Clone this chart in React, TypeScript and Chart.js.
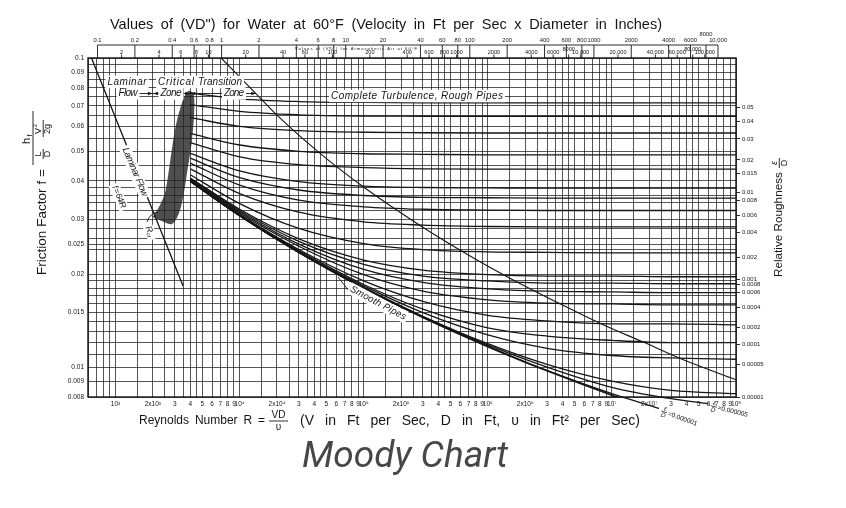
import { useEffect, useRef } from "react";
import { Chart, registerables } from "chart.js";

Chart.register(...registerables);

// ---------------- data ----------------
const reynoldsMin = 600;
const reynoldsMax = 100000000;
const frictionMin = 0.008;
const frictionMax = 0.1;

// Reynolds numbers at which the roughness curves are read
const reynoldsGrid = [4000, 10000, 30000, 100000, 300000, 1000000, 3000000, 10000000, 30000000, 100000000];

// friction factor
const f050 = [0.077, 0.0738, 0.0723, 0.0718, 0.0716, 0.0716, 0.0716, 0.0716, 0.0716, 0.0716];
const f040 = [0.0707, 0.0672, 0.0655, 0.0649, 0.0648, 0.0647, 0.0647, 0.0647, 0.0647, 0.0647];
const f030 = [0.0641, 0.0601, 0.0582, 0.0575, 0.0573, 0.0572, 0.0572, 0.0572, 0.0572, 0.0572];
const f020 = [0.057, 0.0523, 0.0499, 0.049, 0.0488, 0.0486, 0.0486, 0.0486, 0.0486, 0.0486];
const f015 = [0.0532, 0.0479, 0.0452, 0.0442, 0.0438, 0.0437, 0.0437, 0.0437, 0.0437, 0.0437];
const f010 = [0.0491, 0.0431, 0.0398, 0.0385, 0.0381, 0.038, 0.0379, 0.0379, 0.0379, 0.0379];
const f008 = [0.0474, 0.041, 0.0374, 0.0359, 0.0354, 0.0353, 0.0352, 0.0352, 0.0352, 0.0352];
const f006 = [0.0457, 0.0388, 0.0347, 0.033, 0.0324, 0.0322, 0.0321, 0.0321, 0.0321, 0.0321];
const f004 = [0.0438, 0.0364, 0.0317, 0.0295, 0.0288, 0.0285, 0.0284, 0.0284, 0.0284, 0.0284];
const f002 = [0.0419, 0.0338, 0.0281, 0.0251, 0.024, 0.0236, 0.0235, 0.0234, 0.0234, 0.0234];
const f001 = [0.0409, 0.0324, 0.026, 0.0222, 0.0206, 0.0199, 0.0197, 0.0197, 0.0196, 0.0196];
const f0008 = [0.0407, 0.0321, 0.0255, 0.0215, 0.0197, 0.019, 0.0187, 0.0187, 0.0186, 0.0186];
const f0006 = [0.0405, 0.0318, 0.025, 0.0207, 0.0188, 0.0179, 0.0176, 0.0175, 0.0174, 0.0174];
const f0004 = [0.0403, 0.0315, 0.0246, 0.0199, 0.0176, 0.0165, 0.0161, 0.016, 0.0159, 0.0159];
const f0002 = [0.0401, 0.0312, 0.024, 0.019, 0.0163, 0.0147, 0.0141, 0.0138, 0.0138, 0.0137];
const f0001 = [0.04, 0.031, 0.0238, 0.0185, 0.0154, 0.0134, 0.0126, 0.0122, 0.012, 0.012];
const f00005 = [0.04, 0.031, 0.0236, 0.0183, 0.015, 0.0127, 0.0115, 0.0109, 0.0107, 0.0106];
const f00001 = [0.0399, 0.0309, 0.0235, 0.0181, 0.0146, 0.0119, 0.0102, 0.009, 0.0084, 0.0082];

// curves that run out below the frame to their labels
const r000005 = [4000, 10000, 30000, 100000, 300000, 1000000, 3000000, 10000000, 30000000, 60000000];
const f000005 = [0.0399, 0.0309, 0.0235, 0.018, 0.0145, 0.0118, 0.01, 0.0086, 0.0079, 0.0076];
const r000001 = [4000, 10000, 30000, 100000, 300000, 1000000, 3000000, 10000000, 24000000];
const f000001 = [0.0399, 0.0309, 0.0235, 0.018, 0.0145, 0.0117, 0.00975, 0.0082, 0.00735];

// smooth pipes
const smoothR = [4000, 10000, 30000, 100000, 300000, 1000000, 3000000, 10000000, 30000000];
const smoothF = [0.0399, 0.0309, 0.0235, 0.018, 0.01446, 0.01164, 0.00972, 0.0081, 0.00695];

// laminar flow line
const laminarR = [640, 3500];
const laminarF = [0.1, 0.01829];

// boundary of complete turbulence
const boundaryR = [7100, 13900, 20500, 46000, 103000, 297000, 654000, 1430000, 3960000, 8500000, 18300000, 39000000, 100000000];
const boundaryF = [0.1, 0.0759, 0.0647, 0.0486, 0.0379, 0.0284, 0.0234, 0.0196, 0.0159, 0.0137, 0.012, 0.0105, 0.0091];

// critical zone (shaded outline)
const criticalR = [1990, 2200, 2500, 2750, 3050, 3450, 3850, 4250, 4300, 4100, 3800, 3550, 3250, 2850, 2400];
const criticalF = [0.0306, 0.0325, 0.0365, 0.046, 0.06, 0.072, 0.0782, 0.0765, 0.066, 0.053, 0.0435, 0.0365, 0.0315, 0.029, 0.0296];

// axis ticks
const gridMultipliers = [1, 1.5, 2, 2.5, 3, 3.5, 4, 4.5, 5, 6, 7, 8, 9];
const reynoldsLabelValues = [
  1000, 2000, 3000, 4000, 5000, 6000, 7000, 8000, 9000,
  10000, 20000, 30000, 40000, 50000, 60000, 70000, 80000, 90000,
  100000, 200000, 300000, 400000, 500000, 600000, 700000, 800000, 900000,
  1000000, 2000000, 3000000, 4000000, 5000000, 6000000, 7000000, 8000000, 9000000,
  10000000, 20000000, 30000000, 40000000, 50000000, 60000000, 70000000, 80000000, 90000000,
  100000000,
];
const reynoldsLabelTexts = [
  "10³", "2x10³", "3", "4", "5", "6", "7", "8", "9",
  "10⁴", "2x10⁴", "3", "4", "5", "6", "7", "8", "9",
  "10⁵", "2x10⁵", "3", "4", "5", "6", "7", "8", "9",
  "10⁶", "2x10⁶", "3", "4", "5", "6", "7", "8", "9",
  "10⁷", "2x10⁷", "3", "4", "5", "6", "7", "8", "9",
  "10⁸",
];
const frictionGrid = [
  0.008, 0.009, 0.01, 0.011, 0.012, 0.013, 0.014, 0.015, 0.016, 0.017, 0.018, 0.019, 0.02,
  0.022, 0.024, 0.025, 0.026, 0.028, 0.03, 0.032, 0.034, 0.036, 0.038, 0.04, 0.045, 0.05,
  0.055, 0.06, 0.065, 0.07, 0.075, 0.08, 0.085, 0.09, 0.095, 0.1,
];
const frictionLabelValues = [0.1, 0.09, 0.08, 0.07, 0.06, 0.05, 0.04, 0.03, 0.025, 0.02, 0.015, 0.01, 0.009, 0.008];
const frictionLabelTexts = ["0.1", "0.09", "0.08", "0.07", "0.06", "0.05", "0.04", "0.03", "0.025", "0.02", "0.015", "0.01", "0.009", "0.008"];

// right axis: relative roughness labels, at the friction factor where each sits
const roughnessLabelF = [0.0694, 0.0625, 0.0547, 0.0468, 0.0424, 0.0368, 0.0347, 0.031, 0.0273, 0.0227, 0.01927, 0.01856, 0.01748, 0.01564, 0.01347, 0.01187, 0.01022, 0.008];
const roughnessLabelTexts = ["0.05", "0.04", "0.03", "0.02", "0.015", "0.01", "0.008", "0.006", "0.004", "0.002", "0.001", "0.0008", "0.0006", "0.0004", "0.0002", "0.0001", "0.00005", "0.00001"];

// top scales: VD" for water and for air (mapped to Reynolds number)
const waterReynoldsPerVD = 7160;
const airReynoldsPerVD = 560;
const waterVD = [0.1, 0.2, 0.4, 0.6, 0.8, 1, 2, 4, 6, 8, 10, 20, 40, 60, 80, 100, 200, 400, 600, 800, 1000, 2000, 4000, 6000, 8000, 10000];
const waterVDLabels = ["0.1", "0.2", "0.4", "0.6", "0.8", "1", "2", "4", "6", "8", "10", "20", "40", "60", "80", "100", "200", "400", "600", "800", "1000", "2000", "4000", "6000", "8000", "10,000"];
const airVD = [2, 4, 6, 8, 10, 20, 40, 60, 100, 200, 400, 600, 800, 1000, 2000, 4000, 6000, 8000, 10000, 20000, 40000, 60000, 80000, 100000];
const airVDLabels = ["2", "4", "6", "8", "10", "20", "40", "60", "100", "200", "400", "600", "800", "1000", "2000", "4000", "6000", "8000", "10,000", "20,000", "40,000", "60,000", "80,000", "100,000"];

// ---------------- helpers ----------------
const FONT = '"Liberation Sans", Arial, Helvetica, sans-serif';
const INK = "#151515";

function findLabel(values: number[], labels: string[], v: number): string {
  for (let i = 0; i < values.length; i++) {
    if (Math.abs(values[i] - v) <= Math.abs(v) * 1e-6) return labels[i];
  }
  return "";
}

type TextOpts = {
  size: number;
  italic?: boolean;
  width?: number;
  fit?: "letters" | "words" | "size";
  angle?: number;
  bg?: boolean;
  color?: string;
  family?: string;
  align?: "center" | "left";
};

function drawText(ctx: any, str: string, cx: number, cy: number, o: TextOpts) {
  ctx.save();
  ctx.translate(cx, cy);
  if (o.angle) ctx.rotate((o.angle * Math.PI) / 180);
  let size = o.size;
  const fam = o.family ?? FONT;
  const it = o.italic ? "italic " : "";
  ctx.font = `${it}${size}px ${fam}`;
  ctx.letterSpacing = "0px";
  ctx.wordSpacing = "0px";
  const natural = ctx.measureText(str).width;
  let w = natural;
  const fit = o.fit ?? "letters";
  if (o.width) {
    if (fit === "size") {
      size = (size * o.width) / natural;
      ctx.font = `${it}${size}px ${fam}`;
      w = ctx.measureText(str).width;
    } else if (fit === "words") {
      const nSp = (str.match(/ /g) || []).length;
      if (nSp > 0) {
        const ws = (o.width - natural) / nSp;
        ctx.wordSpacing = `${ws}px`;
        w = o.width;
      }
    } else if (str.length > 1) {
      const ls = (o.width - natural) / (str.length - 1);
      ctx.letterSpacing = `${ls}px`;
      w = natural + ls * (str.length - 1);
    }
  }
  const x0 = o.align === "left" ? 0 : -w / 2;
  if (o.bg) {
    ctx.fillStyle = "#fff";
    ctx.fillRect(x0 - 2, -size * 0.62, w + 4, size * 1.24);
  }
  ctx.fillStyle = o.color ?? INK;
  ctx.textAlign = "left";
  ctx.textBaseline = "middle";
  ctx.fillText(str, x0, 0);
  ctx.letterSpacing = "0px";
  ctx.wordSpacing = "0px";
  ctx.restore();
}

function line(ctx: any, x1: number, y1: number, x2: number, y2: number) {
  ctx.beginPath();
  ctx.moveTo(x1, y1);
  ctx.lineTo(x2, y2);
  ctx.stroke();
}

function arrowHead(ctx: any, x: number, y: number, dir: number) {
  ctx.beginPath();
  ctx.moveTo(x, y);
  ctx.lineTo(x - dir * 4.5, y - 1.8);
  ctx.lineTo(x - dir * 4.5, y + 1.8);
  ctx.closePath();
  ctx.fill();
}

function epsLabel(ctx: any, x: number, y: number, value: string, angle: number) {
  ctx.save();
  ctx.translate(x, y);
  ctx.rotate((angle * Math.PI) / 180);
  ctx.fillStyle = INK;
  ctx.strokeStyle = INK;
  ctx.lineWidth = 0.7;
  ctx.textAlign = "center";
  ctx.textBaseline = "middle";
  ctx.font = `italic 6.5px ${FONT}`;
  ctx.fillText("ε", 4.5, -3.4);
  ctx.fillText("D", 4.5, 3.6);
  line(ctx, 1.5, 0, 7.5, 0);
  ctx.font = `6.5px ${FONT}`;
  ctx.textAlign = "left";
  ctx.fillText("=" + value, 8.5, 0.3);
  ctx.restore();
}

const xGrid: number[] = [];
for (let e = 2; e <= 7; e++) {
  for (const m of gridMultipliers) {
    const v = m * Math.pow(10, e);
    if (v >= reynoldsMin && v <= reynoldsMax) xGrid.push(v);
  }
}
xGrid.push(reynoldsMax);

const pts = (xs: number[], ys: number[]) => xs.map((x, i) => ({ x, y: ys[i] }));

const roughCurves = [f050, f040, f030, f020, f015, f010, f008, f006, f004, f002, f001, f0008, f0006, f0004, f0002, f0001, f00005, f00001];

const curveStyle = {
  borderColor: INK,
  borderWidth: 1.3,
  pointRadius: 0,
  fill: false,
  cubicInterpolationMode: "monotone",
};

const decorPlugin = {
  id: "moodyDecor",
  afterDatasetsDraw(chart: any) {
    const ctx = chart.ctx;
    const ca = chart.chartArea;
    const xs = chart.scales.x;
    ctx.save();
    // zone dimension line
    ctx.strokeStyle = INK;
    ctx.fillStyle = INK;
    ctx.lineWidth = 0.9;
    const xLam = xs.getPixelForValue(2000);
    const xCrit = xs.getPixelForValue(4000);
    const xTrans = xs.getPixelForValue(13500);
    const yz = 93.5;
    line(ctx, 138, yz, xTrans, yz);
    arrowHead(ctx, xLam - 0.5, yz, 1);
    arrowHead(ctx, xLam + 0.5, yz, -1);
    arrowHead(ctx, xCrit - 0.5, yz, 1);
    arrowHead(ctx, xCrit + 0.5, yz, -1);
    arrowHead(ctx, xTrans, yz, 1);

    drawText(ctx, "Laminar", 127, 82, { size: 10, italic: true, width: 39, bg: true });
    drawText(ctx, "Critical", 176, 82, { size: 10, italic: true, width: 36, bg: true });
    drawText(ctx, "Transition", 220, 82, { size: 10, italic: true, width: 44, bg: true });
    drawText(ctx, "Flow", 128, yz, { size: 10, italic: true, width: 19, bg: true });
    drawText(ctx, "Zone", 171, yz, { size: 10, italic: true, width: 21, bg: true });
    drawText(ctx, "Zone", 234, yz, { size: 10, italic: true, width: 20, bg: true });
    drawText(ctx, "Complete Turbulence, Rough Pipes", 417, 96, { size: 10, italic: true, width: 172, bg: true });

    drawText(ctx, "Laminar Flow", 135, 172, { size: 9.5, italic: true, width: 52, angle: 67, bg: true });
    drawText(ctx, "f = 64/R", 119, 197, { size: 8.5, italic: true, width: 24, angle: 67, bg: true });
    // Rcr with leader
    ctx.beginPath();
    ctx.moveTo(158, 212);
    ctx.quadraticCurveTo(150, 213, 147, 222);
    ctx.stroke();
    ctx.save();
    ctx.translate(150, 232);
    ctx.rotate((67 * Math.PI) / 180);
    ctx.fillStyle = "#fff";
    ctx.fillRect(-8, -5, 16, 10);
    ctx.fillStyle = INK;
    ctx.font = `italic 9px ${FONT}`;
    ctx.textBaseline = "middle";
    ctx.textAlign = "left";
    ctx.fillText("R", -6, 0);
    ctx.font = `italic 6px ${FONT}`;
    ctx.fillText("cr", 0, 2.5);
    ctx.restore();

    // Smooth Pipes with leader
    line(ctx, 338, 277, 349, 291);
    drawText(ctx, "Smooth Pipes", 378, 303, { size: 9.5, italic: true, width: 62, angle: 28, bg: true });

    // frame
    ctx.lineWidth = 1.4;
    ctx.strokeStyle = INK;
    ctx.strokeRect(ca.left, ca.top, ca.right - ca.left, ca.bottom - ca.top);
    ctx.restore();
  },
  afterDraw(chart: any) {
    const ctx = chart.ctx;
    const ca = chart.chartArea;
    const xs = chart.scales.x;
    ctx.save();
    ctx.strokeStyle = INK;
    ctx.fillStyle = INK;

    // ---- top scales ----
    const yLine = 45;
    const xw0 = xs.getPixelForValue(waterVD[0] * waterReynoldsPerVD);
    const xw1 = xs.getPixelForValue(waterVD[waterVD.length - 1] * waterReynoldsPerVD);
    ctx.lineWidth = 0.9;
    line(ctx, xw0, yLine, xw1, yLine);
    waterVD.forEach((vd, i) => {
      const x = xs.getPixelForValue(vd * waterReynoldsPerVD);
      line(ctx, x, yLine, x, ca.top);
      const raised = waterVDLabels[i] === "8000";
      drawText(ctx, waterVDLabels[i], x, raised ? 34 : 40, { size: 5.8 });
    });
    airVD.forEach((vd, i) => {
      const x = xs.getPixelForValue(vd * airReynoldsPerVD);
      line(ctx, x, ca.top - 3.5, x, ca.top);
      const raised = airVDLabels[i] === "8000" || airVDLabels[i] === "80,000";
      drawText(ctx, airVDLabels[i], x, raised ? 49 : 52.5, { size: 5.6 });
    });
    drawText(ctx, 'Values of (VD") for Atmospheric Air at 60°F', 356, 48.5, { size: 4.2, width: 122 });
    drawText(ctx, 'Values of (VD") for Water at 60°F (Velocity in Ft per Sec x Diameter in Inches)', 386, 25, { size: 14.5, width: 552, fit: "words" });

    // ---- bottom title ----
    const yb = 421;
    drawText(ctx, "Reynolds Number R =", 202, yb, { size: 12, width: 126, fit: "words" });
    ctx.lineWidth = 0.9;
    drawText(ctx, "VD", 278.5, yb - 5.5, { size: 10 });
    line(ctx, 269, yb, 288, yb);
    drawText(ctx, "υ", 278.5, yb + 6, { size: 10 });
    drawText(ctx, "(V in Ft per Sec, D in Ft, υ in Ft² per Sec)", 470, yb, { size: 14, width: 340, fit: "words" });

    // ---- left title ----
    ctx.save();
    ctx.translate(42, 275);
    ctx.rotate(-Math.PI / 2);
    drawText(ctx, "Friction Factor f =", 0, 0, { size: 13.5, width: 106, align: "left", fit: "words" });
    ctx.fillStyle = INK;
    ctx.strokeStyle = INK;
    ctx.lineWidth = 0.9;
    ctx.textAlign = "center";
    ctx.textBaseline = "middle";
    ctx.font = `11px ${FONT}`;
    ctx.fillText("h", 134, -15);
    ctx.font = `7px ${FONT}`;
    ctx.fillText("f", 139.5, -12);
    line(ctx, 110, -9, 164, -9);
    ctx.font = `9px ${FONT}`;
    ctx.fillText("L", 121, -3.2);
    ctx.fillText("D", 121, 5.8);
    line(ctx, 116, 1.2, 126, 1.2);
    ctx.fillText("V", 144, -3.2);
    ctx.font = `6px ${FONT}`;
    ctx.fillText("2", 149.5, -6.5);
    ctx.font = `9px ${FONT}`;
    ctx.fillText("2g", 146, 5.8);
    line(ctx, 138, 1.2, 155, 1.2);
    ctx.restore();

    // ---- right title ----
    ctx.save();
    ctx.translate(779, 277);
    ctx.rotate(-Math.PI / 2);
    drawText(ctx, "Relative Roughness", 0, 0, { size: 12.5, width: 105, align: "left", fit: "size" });
    ctx.fillStyle = INK;
    ctx.strokeStyle = INK;
    ctx.lineWidth = 0.9;
    ctx.textAlign = "center";
    ctx.textBaseline = "middle";
    ctx.font = `italic 9px ${FONT}`;
    ctx.fillText("ε", 114, -5);
    ctx.font = `9px ${FONT}`;
    ctx.fillText("D", 114, 5.5);
    line(ctx, 109, 0.3, 119, 0.3);
    ctx.restore();

    // ---- labels at the ends of the two finest curves ----
    const m1 = chart.getDatasetMeta(roughCurves.length + 1);
    const m5 = chart.getDatasetMeta(roughCurves.length);
    const p1 = m1.data[m1.data.length - 1];
    const p5 = m5.data[m5.data.length - 1];
    if (p1) epsLabel(ctx, p1.x + 1, p1.y + 2, "0.000001", 20);
    if (p5) epsLabel(ctx, p5.x + 1, p5.y + 1.5, "0.000005", 14);

    // ---- caption ----
    drawText(ctx, "Moody Chart", 405, 458, { size: 32, italic: true, width: 206, fit: "size", family: 'Roboto, "Liberation Sans", sans-serif', color: "#474747" });
    ctx.restore();
  },
};

const GRID = "rgba(20,20,20,0.85)";

export default function App() {
  const ref = useRef<HTMLCanvasElement | null>(null);

  useEffect(() => {
    if (!ref.current) return;
    const datasets: any[] = [];
    roughCurves.forEach((fs) => {
      datasets.push({ ...curveStyle, data: pts(reynoldsGrid, fs) });
    });
    datasets.push({ ...curveStyle, data: pts(r000005, f000005), clip: false });
    datasets.push({ ...curveStyle, data: pts(r000001, f000001), clip: false });
    datasets.push({ ...curveStyle, borderWidth: 1.6, data: pts(smoothR, smoothF) });
    datasets.push({ ...curveStyle, cubicInterpolationMode: "default", tension: 0, data: pts(laminarR, laminarF) });
    datasets.push({ ...curveStyle, borderWidth: 1.1, data: pts(boundaryR, boundaryF) });
    datasets.push({
      data: pts(criticalR, criticalF),
      borderWidth: 0,
      borderColor: "rgba(0,0,0,0)",
      backgroundColor: "rgba(35,35,35,0.8)",
      fill: "shape",
      tension: 0.3,
      pointRadius: 0,
      order: 10,
    });

    const chart = new Chart(ref.current, {
      type: "line",
      data: { datasets },
      plugins: [decorPlugin],
      options: {
        animation: false,
        responsive: false,
        events: [],
        layout: { padding: { left: 58, right: 70, top: 58, bottom: 97 } },
        plugins: { legend: { display: false }, tooltip: { enabled: false }, title: { display: false } },
        elements: { point: { radius: 0 } },
        scales: {
          x: {
            type: "logarithmic",
            position: "bottom",
            min: reynoldsMin,
            max: reynoldsMax,
            afterBuildTicks: (s: any) => {
              s.ticks = xGrid.map((v) => ({ value: v }));
            },
            afterFit: (s: any) => {
              s.height = 14;
            },
            grid: { color: GRID, lineWidth: 0.85, drawTicks: false },
            border: { display: false },
            ticks: {
              autoSkip: false,
              maxRotation: 0,
              minRotation: 0,
              padding: 3,
              color: INK,
              font: { family: FONT, size: 6.5 },
              callback: (v: any) => findLabel(reynoldsLabelValues, reynoldsLabelTexts, Number(v)),
            },
          },
          y: {
            type: "logarithmic",
            position: "left",
            min: frictionMin,
            max: frictionMax,
            afterBuildTicks: (s: any) => {
              s.ticks = frictionGrid.map((v) => ({ value: v }));
            },
            afterFit: (s: any) => {
              s.width = 30;
            },
            grid: { color: GRID, lineWidth: 0.85, drawTicks: false },
            border: { display: false },
            ticks: {
              autoSkip: false,
              padding: 4,
              color: INK,
              font: { family: FONT, size: 6.5 },
              callback: (v: any) => findLabel(frictionLabelValues, frictionLabelTexts, Number(v)),
            },
          },
          y2: {
            type: "logarithmic",
            position: "right",
            min: frictionMin,
            max: frictionMax,
            afterBuildTicks: (s: any) => {
              s.ticks = roughnessLabelF.map((v) => ({ value: v }));
            },
            afterFit: (s: any) => {
              s.width = 40;
            },
            grid: { drawOnChartArea: false, drawTicks: true, tickLength: 4, color: INK, lineWidth: 0.9 },
            border: { display: false },
            ticks: {
              autoSkip: false,
              padding: 2,
              color: INK,
              font: { family: FONT, size: 6 },
              callback: (v: any) => findLabel(roughnessLabelF, roughnessLabelTexts, Number(v)),
            },
          },
        },
      } as any,
    } as any);
    return () => chart.destroy();
  }, []);

  return (
    <div style={{ position: "absolute", left: 0, top: 0, width: 846, height: 508, background: "#fff" }}>
      <canvas ref={ref} width={846} height={508} style={{ display: "block", width: 846, height: 508 }} />
    </div>
  );
}
